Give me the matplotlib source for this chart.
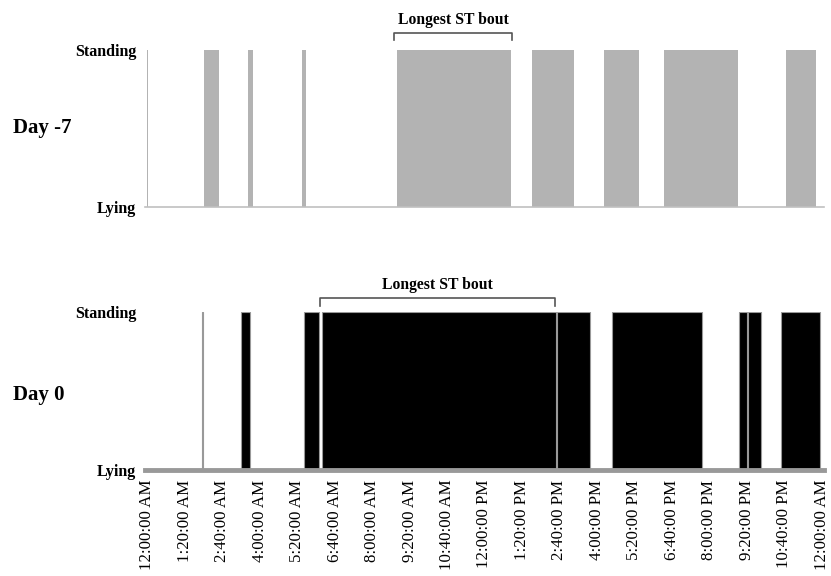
import matplotlib
matplotlib.use('Agg')
import matplotlib.pyplot as plt

# standing bouts, minutes since midnight (start, end)
day7_start = [0, 122, 215, 330, 534, 822, 976, 1103, 1364]
day7_end = [2, 153, 227, 339, 776, 910, 1050, 1261, 1428]
day0_start = [117, 200, 335, 374, 874, 993, 1264, 1283, 1353]
day0_end = [119, 220, 367, 873, 946, 1183, 1281, 1309, 1436]

# longest standing bout bracket (minutes)
day7_longest = (527, 779)
day0_longest = (369, 871)

tick_minutes = list(range(0, 1441, 80))
tick_labels = ['12:00:00 AM', '1:20:00 AM', '2:40:00 AM', '4:00:00 AM', '5:20:00 AM',
               '6:40:00 AM', '8:00:00 AM', '9:20:00 AM', '10:40:00 AM', '12:00:00 PM',
               '1:20:00 PM', '2:40:00 PM', '4:00:00 PM', '5:20:00 PM', '6:40:00 PM',
               '8:00:00 PM', '9:20:00 PM', '10:40:00 PM', '12:00:00 AM']

serif = 'Liberation Serif'
fig = plt.figure(figsize=(8.31, 5.76), dpi=100)
W, H = 831, 576
left, right = 144.7 / W, 824.3 / W
ax1 = fig.add_axes([left, 1 - 207 / H, right - left, 157 / H])
ax2 = fig.add_axes([left, 1 - 470 / H, right - left, 158 / H])


def draw(ax, starts, ends, color, edge, lw):
    widths = [e - s for s, e in zip(starts, ends)]
    ax.bar(starts, [1] * len(starts), width=widths, align='edge',
           color=color, edgecolor=edge, linewidth=lw)
    ax.set_xlim(-5, 1445)
    ax.set_ylim(0, 1)
    for s in ['top', 'right', 'left']:
        ax.spines[s].set_visible(False)
    ax.set_yticks([0, 1])
    ax.set_yticklabels(['Lying', 'Standing'], fontfamily=serif,
                       fontweight='bold', fontsize=11.5)
    ax.tick_params(axis='y', length=0, pad=6)


def bracket(ax, rng, ytop, yend, ytext):
    a, b = rng
    ax.plot([a, a, b, b], [yend, ytop, ytop, yend], color='#555555', lw=1.2,
            clip_on=False, solid_joinstyle='round')
    ax.text((a + b) / 2, ytext, 'Longest ST bout', ha='center', va='center',
            fontfamily=serif, fontweight='bold', fontsize=11.3)


draw(ax1, day7_start, day7_end, '#b3b3b3', 'none', 0)
ax1.spines['bottom'].set_color('#c0c0c0')
ax1.spines['bottom'].set_linewidth(1.2)
ax1.set_xticks([])
bracket(ax1, day7_longest, 1.108, 1.064, 1.19)

draw(ax2, day0_start, day0_end, 'black', '#999999', 0.8)
ax2.spines['bottom'].set_color('#999999')
ax2.spines['bottom'].set_linewidth(3.5)
ax2.set_xticks(tick_minutes)
ax2.set_xticklabels(tick_labels, rotation=90, fontfamily=serif, fontsize=12.2)
ax2.tick_params(axis='x', length=0, pad=7)
bracket(ax2, day0_longest, 1.087, 1.036, 1.17)

fig.text(13 / W, 1 - 128 / H, 'Day -7', fontfamily=serif, fontweight='bold',
         fontsize=15, va='center', ha='left')
fig.text(13 / W, 1 - 395 / H, 'Day 0', fontfamily=serif, fontweight='bold',
         fontsize=15, va='center', ha='left')

fig.savefig('out.png', dpi=100)
